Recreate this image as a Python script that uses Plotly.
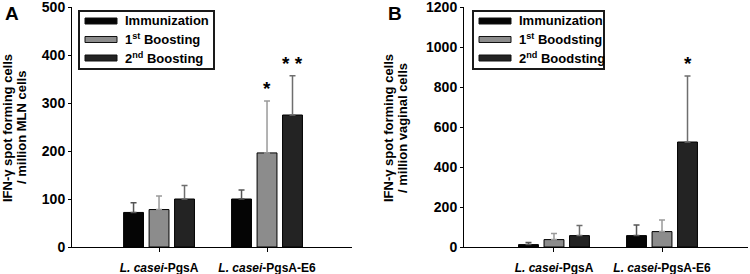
import plotly.graph_objects as go

# ---- data ----
categories = ["<i>L. casei</i>-PgsA", "<i>L. casei</i>-PgsA-E6"]
series_a = ["Immunization", "1<sup>st</sup> Boosting", "2<sup>nd</sup> Boosting"]
series_b = ["Immunization", "1<sup>st</sup> Boodsting", "2<sup>nd</sup> Boodsting"]

mln_imm = [72, 100]
mln_b1 = [78, 196]
mln_b2 = [100, 275]
mln_imm_err = [20, 19]
mln_b1_err = [28, 108]
mln_b2_err = [28, 82]

vag_imm = [12, 57]
vag_b1 = [37, 77]
vag_b2 = [57, 525]
vag_imm_err = [11, 53]
vag_b1_err = [30, 58]
vag_b2_err = [50, 330]

# significance marks: (panel, category index, series index, text)
sig_marks = [("A", 1, 1, "*"), ("A", 1, 2, "* *"), ("B", 1, 2, "*")]

# ---- style ----
colors = ["#050505", "#8c8c8c", "#232323"]
err_colors = ["#555555", "#9a9a9a", "#6e6e6e"]
FONT = "Liberation Sans, Arial, sans-serif"
W, H = 750, 274

def px_x(p):
    return p / W

def px_y(p):
    return 1 - p / H

fig = go.Figure()
xs = [0, 1]

panel_data = {
    "A": ([mln_imm, mln_b1, mln_b2], [mln_imm_err, mln_b1_err, mln_b2_err], series_a, "x", "y", 79, 214),
    "B": ([vag_imm, vag_b1, vag_b2], [vag_imm_err, vag_b1_err, vag_b2_err], series_b, "x2", "y2", 473, 604),
}

for panel, (vals, errs, names, xa, ya, lx0, lx1) in panel_data.items():
    for i in range(3):
        fig.add_trace(go.Bar(
            x=xs, y=vals[i], xaxis=xa, yaxis=ya, showlegend=False, name=names[i],
            offsetgroup=str(i),
            marker=dict(color=colors[i], line=dict(color="#000000", width=1)),
            error_y=dict(type="data", array=errs[i], arrayminus=[0, 0], symmetric=False,
                         color=err_colors[i], thickness=1.5, width=3),
        ))
    # legend swatches and labels
    for i in range(3):
        cy = 21 + 18.5 * i
        fig.add_shape(type="rect", xref="paper", yref="paper",
                      x0=px_x(lx0 + 6), x1=px_x(lx0 + 38), y0=px_y(cy + 3), y1=px_y(cy - 3),
                      line=dict(color="#111111", width=1), fillcolor=colors[i], layer="above")
        fig.add_annotation(x=px_x(lx0 + 44), y=px_y(cy), xref="paper", yref="paper",
                           text="<b>%s</b>" % names[i], showarrow=False,
                           xanchor="left", yanchor="middle",
                           font=dict(family=FONT, size=13, color="#000"))

# legend boxes (added last)
for panel, (_, _, _, _, _, lx0, lx1) in panel_data.items():
    fig.add_shape(type="rect", xref="paper", yref="paper",
                  x0=px_x(lx0), x1=px_x(lx1), y0=px_y(69), y1=px_y(11),
                  line=dict(color="rgb(26,26,26)", width=2), fillcolor="rgba(0,0,0,0)",
                  layer="above")

# asterisks
slot = 0.236
for panel, ci, si, txt in sig_marks:
    vals, errs, _, xa, ya, _, _ = panel_data[panel]
    fig.add_annotation(
        x=xs[ci] + (si - 1) * slot, y=vals[si][ci] + errs[si][ci],
        xref=xa, yref=ya, text="<b>%s</b>" % txt, showarrow=False,
        yanchor="bottom", yshift=0, font=dict(family=FONT, size=19, color="#000"),
    )

tick_font = dict(family=FONT, size=14, color="#000", weight="bold")
cat_font = dict(family=FONT, size=12, color="#000", weight="bold")
ydom = [px_y(247), px_y(7)]

common_x = dict(showline=True, linecolor="#000", linewidth=1, ticks="outside", ticklen=4,
                tickcolor="#000", tickvals=xs, ticktext=categories, tickfont=cat_font,
                showgrid=False, zeroline=False, automargin=False, ticklabelstandoff=6)
common_y = dict(showline=True, linecolor="#000", linewidth=1, ticks="outside", ticklen=3,
                tickcolor="#000", tickfont=tick_font, showgrid=False, zeroline=False,
                automargin=False, ticklabeloverflow="allow")

fig.update_layout(
    width=W, height=H, margin=dict(l=0, r=0, t=0, b=0),
    paper_bgcolor="white", plot_bgcolor="white", showlegend=False,
    barmode="group", bargap=0.292, bargroupgap=0.22,
    xaxis=dict(domain=[px_x(72), px_x(352)], range=[-0.806, 1.787], anchor="y", **common_x),
    yaxis=dict(domain=ydom, range=[0, 500], dtick=100, anchor="x", **common_y),
    xaxis2=dict(domain=[px_x(464), px_x(748)], range=[-0.833, 1.796], anchor="y2", **common_x),
    yaxis2=dict(domain=ydom, range=[0, 1200], dtick=200, anchor="x2", **common_y),
)

# panel letters and y titles
title_lines = {
    "A": (["IFN-γ spot forming cells", "/ million MLN cells"], 3, 7),
    "B": (["IFN-γ spot forming cells", "/ million vaginal cells"], 386, 388),
}
for letter, (lines, lx, tx) in title_lines.items():
    fig.add_annotation(x=px_x(lx), y=px_y(1), xref="paper", yref="paper", text="<b>%s</b>" % letter,
                       showarrow=False, xanchor="left", yanchor="top",
                       font=dict(family=FONT, size=19, color="#000"))
    for j, line in enumerate(lines):
        fig.add_annotation(x=px_x(tx + 14 * j), y=px_y(128), xref="paper", yref="paper",
                           text="<b>%s</b>" % line, showarrow=False, textangle=-90,
                           xanchor="center", yanchor="middle",
                           font=dict(family=FONT, size=13, color="#000"))

fig.write_html("out.html", config={"displayModeBar": False},
               post_script="document.body.style.margin='0';document.body.style.padding='0';")
